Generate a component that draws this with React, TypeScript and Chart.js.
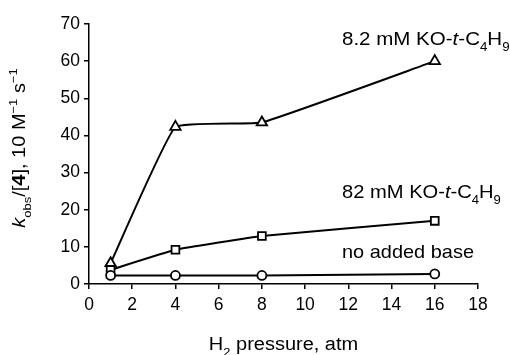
import React, { useEffect, useRef } from "react";
import { Chart, registerables } from "chart.js";

Chart.register(...registerables);

const pressures = [1, 4, 8, 16];
const base82 = [5.6, 42.3, 43.5, 60];
const base820 = [3.8, 9.2, 12.9, 17];
const noBase = [2.3, 2.3, 2.3, 2.7];
const xTickStep = 2;
const yTickStep = 10;

const FAMILY = '"Liberation Sans", Arial, Helvetica, sans-serif';

type Seg = { t: string; style?: string; weight?: string; scale?: number; dy?: number };

function drawRich(
  ctx: CanvasRenderingContext2D,
  segs: Seg[],
  x: number,
  y: number,
  align: "left" | "center",
  size: number,
  sx: number
) {
  const fonts = segs.map(
    (s) => `${s.style || "normal"} ${s.weight || "normal"} ${size * (s.scale || 1)}px ${FAMILY}`
  );
  let total = 0;
  const widths = segs.map((s, i) => {
    ctx.font = fonts[i];
    const w = ctx.measureText(s.t).width;
    total += w;
    return w;
  });
  ctx.save();
  ctx.translate(x, y);
  ctx.scale(sx, 1);
  let cx = align === "center" ? -total / 2 : 0;
  ctx.textAlign = "left";
  ctx.textBaseline = "alphabetic";
  segs.forEach((s, i) => {
    ctx.font = fonts[i];
    ctx.fillText(s.t, cx, (s.dy || 0) * size);
    cx += widths[i];
  });
  ctx.restore();
}

const SUB = { scale: 0.65, dy: 0.33 };
const SUP = { scale: 0.65, dy: -0.45 };

function kotBu(prefix: string): Seg[] {
  return [
    { t: prefix + " mM KO-" },
    { t: "t", style: "italic" },
    { t: "-C" },
    { t: "4", ...SUB },
    { t: "H" },
    { t: "9", ...SUB },
  ];
}

const textPlugin = {
  id: "texts",
  afterDraw(chart: any) {
    const ctx: CanvasRenderingContext2D = chart.ctx;
    ctx.save();
    ctx.fillStyle = "#000";
    drawRich(ctx, kotBu("8.2"), 342, 45, "left", 19, 1.08);
    drawRich(ctx, kotBu("82"), 342, 198, "left", 19, 1.06);
    drawRich(ctx, [{ t: "no added base" }], 342, 258, "left", 19, 1.05);
    const ca = chart.chartArea;
    drawRich(
      ctx,
      [{ t: "H" }, { t: "2", ...SUB }, { t: " pressure, atm" }],
      (ca.left + ca.right) / 2,
      350,
      "center",
      18,
      1.11
    );
    ctx.translate(25, 148);
    ctx.rotate(-Math.PI / 2);
    drawRich(
      ctx,
      [
        { t: "k", style: "italic" },
        { t: "obs", ...SUB },
        { t: "/[" },
        { t: "4", weight: "bold" },
        { t: "], 10 M" },
        { t: "\u22121", ...SUP },
        { t: " s" },
        { t: "\u22121", ...SUP },
      ],
      0,
      0,
      "center",
      18,
      1.11
    );
    ctx.restore();
  },
};

export default function App() {
  const ref = useRef<HTMLCanvasElement>(null);
  useEffect(() => {
    if (!ref.current) return;
    const common = {
      borderColor: "#000",
      borderWidth: 2,
      tension: 0.1,
      pointBackgroundColor: "#fff",
      pointBorderColor: "#000",
      pointBorderWidth: 1.8,
      fill: false,
    };
    const chart = new Chart(ref.current, {
      type: "line",
      data: {
        datasets: [
          { ...common, data: pressures.map((x, i) => ({ x, y: noBase[i] })), pointStyle: "circle", pointRadius: 4.5 },
          { ...common, data: pressures.map((x, i) => ({ x, y: base820[i] })), pointStyle: "rect", pointRadius: 5.5 },
          { ...common, data: pressures.map((x, i) => ({ x, y: base82[i] })), pointStyle: "triangle", pointRadius: 6 },
        ],
      },
      options: {
        animation: false,
        responsive: true,
        maintainAspectRatio: false,
        layout: { padding: { top: 24, right: 32, left: 0, bottom: 0 } },
        plugins: { legend: { display: false }, tooltip: { enabled: false } },
        scales: {
          x: {
            type: "linear",
            min: 0,
            max: 18,
            ticks: { stepSize: xTickStep, color: "#000", font: { size: 17.5, family: FAMILY }, padding: 6, maxRotation: 0 },
            grid: { drawOnChartArea: false, drawTicks: true, tickLength: 5, color: "#000", lineWidth: 1.5 },
            border: { color: "#000", width: 1.5 },
            afterFit: (s: any) => {
              s.height = 71;
            },
          },
          y: {
            min: 0,
            max: 70,
            ticks: { stepSize: yTickStep, color: "#000", font: { size: 17.5, family: FAMILY }, padding: 4 },
            grid: { drawOnChartArea: false, drawTicks: true, tickLength: 5, color: "#000", lineWidth: 1.5 },
            border: { color: "#000", width: 1.5 },
            afterFit: (s: any) => {
              s.width = 89;
            },
          },
        },
      },
      plugins: [textPlugin],
    });
    return () => chart.destroy();
  }, []);
  return (
    <div style={{ position: "fixed", left: 0, top: 0, width: 510, height: 355, background: "#fff" }}>
      <canvas ref={ref} />
    </div>
  );
}
